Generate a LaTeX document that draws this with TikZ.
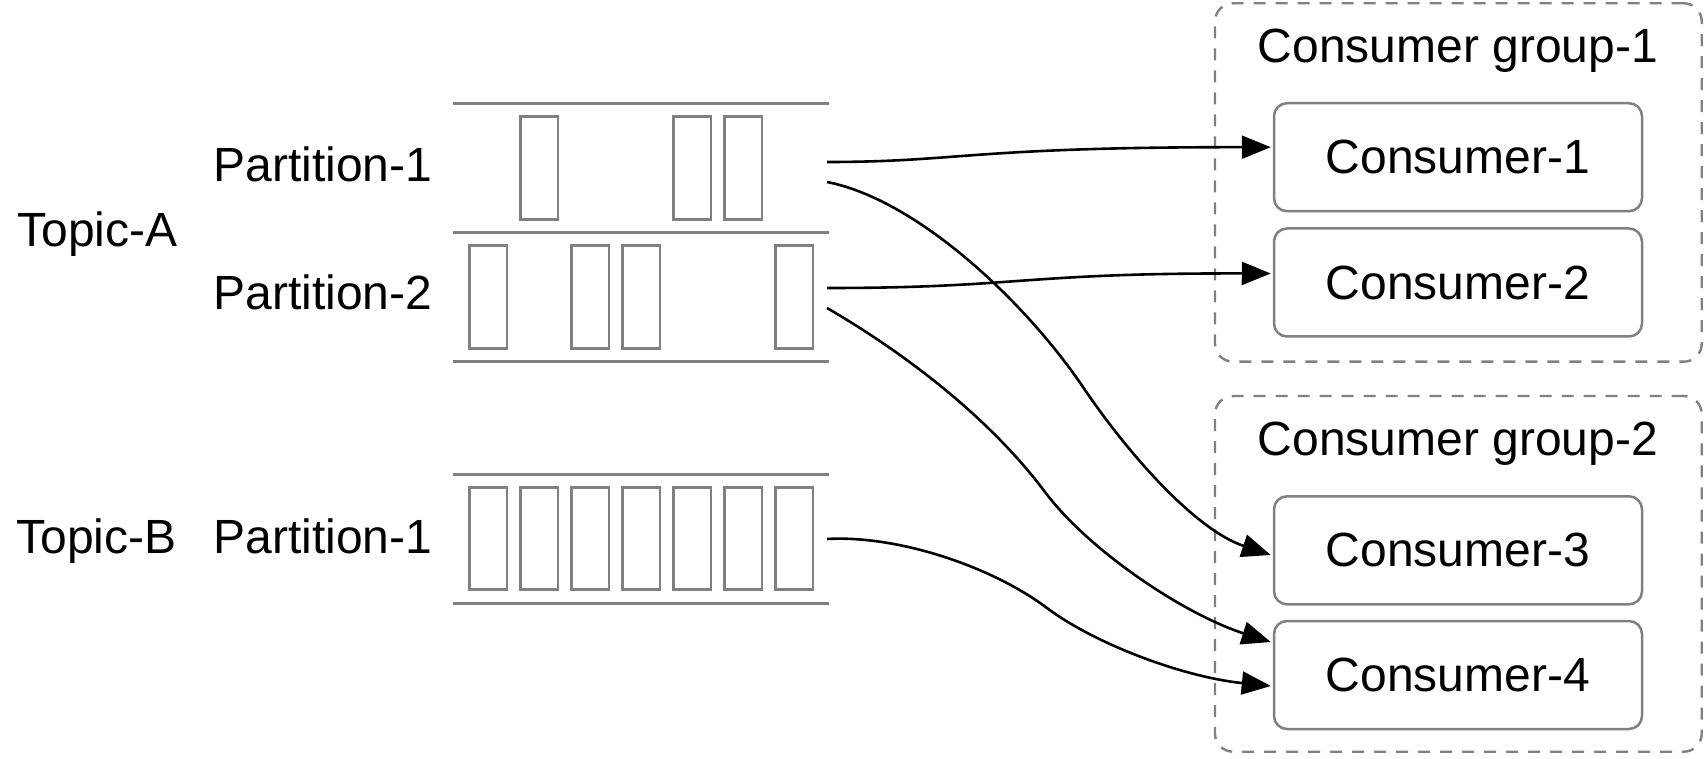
\documentclass[tikz,border=0pt]{standalone}
\usepackage{fontspec}
\setmainfont{Liberation Sans}
\usetikzlibrary{arrows.meta,calc}
\definecolor{linegray}{HTML}{808080}
\begin{document}
\begin{tikzpicture}[x=0.5pt,y=-0.5pt,
  every node/.style={font=\fontsize{24pt}{28pt}\selectfont, inner sep=0pt},
  lbl/.style={anchor=base west},
  slot/.style={draw=linegray, line width=1.25pt},
  rail/.style={draw=linegray, line width=1.25pt},
  cons/.style={draw=linegray, line width=1.25pt, rounded corners=6.5pt, minimum width=184pt, minimum height=54pt},
  grp/.style={draw=linegray, line width=1.2pt, dash pattern=on 6pt off 5pt, rounded corners=9pt, minimum width=243.35pt},
  flow/.style={draw=black, line width=1.3pt, -{Triangle[length=14.5pt,width=11.5pt]}}
]
\useasboundingbox (0,0) rectangle (1704,759);

% consumer groups
\node[grp, minimum height=179.2pt] (g1) at (1458.35,182.5) {};
\node[grp, minimum height=177.85pt] (g2) at (1458.35,573.85) {};
\node[anchor=base] (gl1) at (1458,63) {Consumer group-1};
\node[anchor=base] (gl2) at (1458,455) {Consumer group-2};

% consumers
\node[cons] (c1) at (1458,157.2) {Consumer-1};
\node[cons] (c2) at (1458,282.5) {Consumer-2};
\node[cons] (c3) at (1458,550.3) {Consumer-3};
\node[cons] (c4) at (1458,675) {Consumer-4};

% labels
\node[lbl] (ta) at (17,246.7) {Topic-A};
\node[lbl] (pa1) at (213,181.7) {Partition-1};
\node[lbl] (pa2) at (213,310) {Partition-2};
\node[lbl] (tb) at (16,553.3) {Topic-B};
\node[lbl] (pb1) at (213,553.3) {Partition-1};

% rails
\foreach \y in {103.3,232.7,361.7,474.3,603.3}
  \draw[rail] (453,\y) -- (829,\y);

% message slots
\foreach \k in {1,4,5}
  \draw[slot] ({469.7+51*\k},116.7) rectangle ++(37.5,102.6);
\foreach \k in {0,2,3,6}
  \draw[slot] ({469.7+51*\k},245.7) rectangle ++(37.5,103);
\foreach \k in {0,...,6}
  \draw[slot] ({469.7+51*\k},487.3) rectangle ++(37.5,102);

% connector starts
\coordinate (s1) at (827,162);
\coordinate (s2) at (827,182);
\coordinate (s3) at (827,288);
\coordinate (s4) at (827,308);
\coordinate (s5) at (827,539);

% connectors
\draw[flow] (s1) .. controls (960,162) and (970,147) .. ($(c1.west)+(-2,-10)$);
\draw[flow] (s3) .. controls (1020,288) and (1020,273) .. ($(c2.west)+(-2,-9)$);
\draw[flow] (s2) .. controls (915,199) and (1024,299) .. (1085,390)
               .. controls (1130,456) and (1196,530) .. ($(c3.west)+(-2,4.7)$);
\draw[flow] (s4) .. controls (896,348) and (985,412) .. (1045,492)
               .. controls (1090,552) and (1186,615) .. ($(c4.west)+(-2,-33)$);
\draw[flow] (s5) .. controls (897,535) and (991,566) .. (1047,608)
               .. controls (1095,644) and (1183,677) .. ($(c4.west)+(-2,11)$);
\end{tikzpicture}
\end{document}
